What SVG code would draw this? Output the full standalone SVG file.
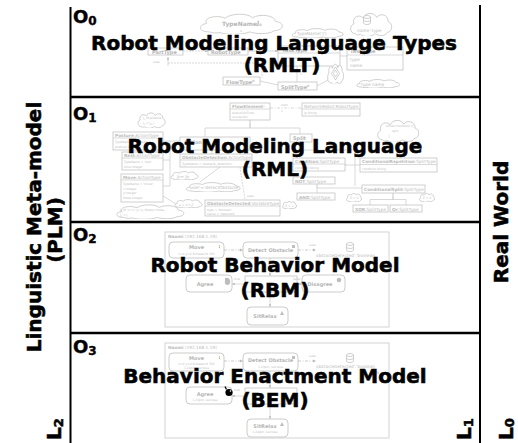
<svg xmlns="http://www.w3.org/2000/svg" width="518" height="443" viewBox="0 0 518 443">
<style>
.ttl{font-family:"DejaVu Sans",Verdana,sans-serif;font-weight:bold;font-size:20px;fill:#000;stroke:#000;stroke-width:0.55px}
.lay{font-family:"DejaVu Sans",Verdana,sans-serif;font-weight:bold;font-size:18px;fill:#000;stroke:#000;stroke-width:0.4px}
.ax{stroke:#000;fill:none}
.bx{fill:#fff;stroke:#c4c4c4;stroke-width:0.8}
.rb{fill:#fff;stroke:#c6c6c6;stroke-width:0.9}
.cl{fill:#fff;stroke:#c4c4c4;stroke-width:0.8}
.ln{stroke:#c8c8c8;stroke-width:0.7;fill:none}
.dd{stroke:#bdbdbd;stroke-width:0.8;fill:none;stroke-dasharray:3 1.5 1 1.5}
.t{font-family:"DejaVu Sans",sans-serif;font-size:3px;fill:#bdbdbd}
.tm{font-family:"DejaVu Sans",sans-serif;font-size:4.3px;fill:#bcbcbc}
.tb{font-family:"DejaVu Sans",sans-serif;font-size:5px;font-weight:bold;fill:#b6b6b6}
.c{text-anchor:middle}
</style>
<defs>
<symbol id="cloud" viewBox="0 0 100 40" preserveAspectRatio="none">
<path vector-effect="non-scaling-stroke" d="M14,36 C1,36 1,22 11,20 C6,8 24,3 32,10 C38,0 58,0 63,9 C71,1 89,4 89,16 C100,18 100,33 87,34 C83,41 66,40 60,36 C52,42 31,42 26,37 C22,39 17,38 14,36 Z"/>
</symbol>
<marker id="ga" viewBox="0 0 6 6" refX="6" refY="3" markerWidth="4" markerHeight="4" orient="auto"><path d="M0,0 L6,3 L0,6 Z" fill="#bdbdbd"/></marker>
<marker id="gh" viewBox="0 0 6 6" refX="6" refY="3" markerWidth="4" markerHeight="4" orient="auto"><path d="M0,0 L6,3 L0,6 Z" fill="#fff" stroke="#bdbdbd" stroke-width="0.8"/></marker>
<g id="db"><ellipse cx="0" cy="0" rx="3.5" ry="1.5" fill="#fff" stroke="#bdbdbd" stroke-width="0.7"/><path d="M-3.5,0 V6 A3.5,1.5 0 0 0 3.5,6 V0 M-3.5,3 A3.5,1.5 0 0 0 3.5,3" fill="none" stroke="#bdbdbd" stroke-width="0.7"/></g>
</defs>
<rect width="518" height="443" fill="#fff"/>

<!-- O0 layer -->
<g id="layer-O0">
<use href="#cloud" x="197" y="13" width="88" height="21" class="cl"/>
<text x="222" y="26" class="tb" style="font-size:6px">TypeName</text>
<text x="257" y="25" class="tb" style="font-size:6px">J<tspan font-size="3.5" dy="1">0</tspan></text>
<text x="240" y="32" class="t">A</text>
<use href="#cloud" x="290" y="28" width="55" height="10" class="cl"/>
<text x="297" y="35" class="tm">TypeName('J')</text>
<use href="#cloud" x="349" y="12" width="44" height="24" class="cl"/>
<use href="#db" x="367" y="17"/>
<text x="357" y="32" class="tm">name':type</text>
<rect x="148" y="48" width="35" height="7" class="bx"/>
<text x="152" y="54" class="tb">PartType</text>
<rect x="208" y="48" width="40" height="7" class="bx"/>
<text x="211" y="54" class="tb">RobotType</text>
<line x1="183" y1="51" x2="208" y2="51" class="ln" stroke-dasharray="2 1" marker-end="url(#ga)"/>
<text x="153" y="63" class="t">uses</text>
<line x1="168" y1="66" x2="168" y2="57" class="ln" marker-end="url(#ga)"/>
<path d="M168,63 H262 V78" class="ln" stroke-dasharray="2 1"/>
<rect x="278" y="46" width="62" height="20" class="bx"/>
<line x1="278" y1="53" x2="340" y2="53" class="ln"/>
<text x="282" y="52" class="tb">TaskType</text>
<text x="281" y="59" class="t">TypeName = ...</text>
<line x1="248" y1="51" x2="278" y2="51" class="ln" marker-end="url(#ga)"/>
<rect x="347" y="47" width="56" height="23" class="bx"/>
<line x1="347" y1="55" x2="403" y2="55" class="ln"/>
<text x="350" y="53" class="tb">TaskType</text>
<text x="350" y="61" class="tm">type</text>
<text x="350" y="67" class="tm">name</text>
<line x1="340" y1="56" x2="347" y2="56" class="ln"/>
<rect x="223" y="77" width="37" height="8" class="bx"/>
<text x="226" y="83.5" class="tb">FlowType<tspan font-size="3" dy="-2">0</tspan></text>
<rect x="278" y="82" width="39" height="8" class="bx"/>
<text x="281" y="88.5" class="tb">SplitType<tspan font-size="3" dy="-2">0</tspan></text>
<line x1="297" y1="66" x2="297" y2="82" class="ln"/>
<line x1="260" y1="81" x2="278" y2="85" class="ln"/>
<text x="300" y="75" class="t">1</text>
<text x="262" y="71" class="t">1</text>
<use href="#cloud" x="327" y="63" width="17" height="21" class="cl"/>
<path d="M335.5,67 L339.5,73.5 L335.5,80 L331.5,73.5 Z" fill="none" stroke="#bdbdbd" stroke-width="0.7"/>
<path d="M335.5,70 L337.5,73.5 L335.5,77 L333.5,73.5 Z" fill="none" stroke="#bdbdbd" stroke-width="0.6"/>
<use href="#cloud" x="355" y="79" width="46" height="9" class="cl"/>
<text x="361" y="86" class="tm">type name</text>
<line x1="317" y1="86" x2="328" y2="80" class="ln"/>
<text x="73" y="23" class="lay">O<tspan font-size="12" dy="2">0</tspan></text>
<text x="274" y="50" class="ttl" text-anchor="middle">Robot Modeling Language Types</text>
<text x="282" y="72" class="ttl" text-anchor="middle">(RMLT)</text>
</g>

<!-- O1 layer -->
<g id="layer-O1">
<path d="M250,120 V128 M205,128 H300 M205,128 V137 M300,128 V134" class="ln"/>
<line x1="250" y1="128" x2="250" y2="120.5" class="ln" marker-end="url(#gh)"/>
<path d="M163,141 H180 M163,160 H170 M163,186 H170 M170,141 V186" class="ln"/>
<line x1="212" y1="154" x2="212" y2="150.5" class="ln" marker-end="url(#gh)"/>
<use href="#cloud" x="137" y="112" width="29" height="16" class="cl"/>
<text x="143" y="119" class="t">J<tspan font-size="2" dy="0.7">0</tspan><tspan dy="-0.7"> M posture</tspan></text>
<text x="143" y="124" class="t">J<tspan font-size="2" dy="0.7">0</tspan><tspan dy="-0.7"> = J</tspan><tspan font-size="2" dy="0.7">A</tspan><tspan dy="-0.7"> J</tspan></text>
<rect x="113" y="132" width="50" height="18" class="bx"/>
<line x1="113" y1="138" x2="163" y2="138" class="ln"/>
<text x="115" y="137" class="tm"><tspan font-weight="bold">Posture</tspan>:ActionType</text>
<text x="115" y="143" class="t">TypeName = 'posture'</text>
<text x="115" y="147.5" class="t">posture:String</text>
<rect x="122" y="152" width="41" height="18" class="bx"/>
<line x1="122" y1="158" x2="163" y2="158" class="ln"/>
<text x="124" y="157" class="tm"><tspan font-weight="bold">Rest</tspan>:ActionType</text>
<text x="124" y="163" class="t">TypeName = 'rest'</text>
<text x="124" y="167.5" class="t">time:Integer</text>
<rect x="121" y="174" width="42" height="28" class="bx"/>
<line x1="121" y1="180" x2="163" y2="180" class="ln"/>
<text x="123" y="179" class="tm"><tspan font-weight="bold">Move</tspan>:ActionType</text>
<text x="123" y="185" class="t">TypeName = 'move'</text>
<text x="123" y="189.5" class="t">x:Integer</text>
<text x="123" y="194" class="t">y:Integer</text>
<text x="123" y="198.5" class="t">theta:Integer</text>
<use href="#cloud" x="114" y="204" width="72" height="15" class="cl"/>
<text x="120" y="211" class="t">J<tspan font-size="2" dy="0.7">0</tspan><tspan dy="-0.7"> M 'x='x;'y='y;'theta='theta</tspan></text>
<text x="120" y="216" class="t">J<tspan font-size="2" dy="0.7">0</tspan><tspan dy="-0.7"> = J</tspan></text>
<line x1="163" y1="196" x2="176" y2="204" class="ln"/>
<rect x="230" y="103" width="40" height="17" class="bx"/>
<line x1="230" y1="109" x2="270" y2="109" class="ln"/>
<text x="232" y="108" class="tm"><tspan font-weight="bold">FlowElement</tspan><tspan font-size="2.5" dy="-1.5">0</tspan></text>
<text x="232" y="113.5" class="t">executionTime</text>
<text x="232" y="118" class="t">successful</text>
<rect x="302" y="103" width="58" height="13" class="bx"/>
<line x1="302" y1="109" x2="360" y2="109" class="ln"/>
<text x="304" y="108" class="tm">NetworkRobot:RobotType</text>
<text x="304" y="114" class="t">ip:String</text>
<line x1="270" y1="108" x2="302" y2="108" class="ln" stroke-dasharray="3 1.5 1 1.5"/>
<text x="281" y="106" class="t">next</text>
<text x="281" y="112" class="t">1</text>
<rect x="180" y="137" width="70" height="13" class="bx"/>
<text x="184" y="144" class="tb">Action</text>
<rect x="290" y="134" width="22" height="8" class="bx"/>
<text x="293" y="140" class="tb">Split</text>
<rect x="180" y="154" width="72" height="13" class="bx"/>
<line x1="180" y1="160" x2="252" y2="160" class="ln"/>
<text x="182" y="159" class="tm"><tspan font-weight="bold">ObstacleDetection</tspan>:ActionType</text>
<text x="182" y="165" class="t">TypeName = 'obstacle_detection'</text>
<use href="#cloud" x="170" y="171" width="29" height="9" class="cl"/>
<text x="177" y="177.5" class="tm">J<tspan font-size="3" dy="0.8">0</tspan><tspan dy="-0.8">= J</tspan><tspan font-size="3" dy="0.8">M</tspan></text>
<use href="#cloud" x="184" y="182" width="58" height="10" class="cl"/>
<text x="190" y="189" class="tm">user'='detectObstacle'</text>
<line x1="220" y1="167" x2="200" y2="182" class="ln"/>
<use href="#cloud" x="174" y="199" width="29" height="9" class="cl"/>
<text x="179" y="205.5" class="t">a = X;Y;Z</text>
<rect x="205" y="200" width="75" height="16" class="bx"/>
<line x1="205" y1="206" x2="280" y2="206" class="ln"/>
<text x="207" y="205" class="tm"><tspan font-weight="bold">ObstacleDetected</tspan>:VariableType</text>
<text x="207" y="210.5" class="t">type = 'boolean'</text>
<text x="207" y="214.5" class="t">name = 'detected'</text>
<line x1="240" y1="167" x2="245" y2="200" class="ln" stroke-dasharray="2 1"/>
<text x="247" y="197" class="t">uses</text>
<rect x="293" y="158" width="52" height="13" class="bx"/>
<line x1="293" y1="164" x2="345" y2="164" class="ln"/>
<text x="295" y="163" class="tm"><tspan font-weight="bold">Condition</tspan>:SplitType</text>
<text x="295" y="169" class="t">condition:String</text>
<rect x="360" y="158" width="77" height="14" class="bx"/>
<line x1="360" y1="164.5" x2="437" y2="164.5" class="ln"/>
<text x="362" y="163" class="tm"><tspan font-weight="bold">ConditionalRepetition</tspan>:SplitType</text>
<text x="362" y="169.5" class="t">condition:String</text>
<line x1="360" y1="165" x2="345.5" y2="165" class="ln" marker-end="url(#gh)"/>
<use href="#cloud" x="376" y="119" width="44" height="23" class="cl"/>
<text x="386" y="127" class="t">while('condition'){</text>
<text x="392" y="132" class="t">split</text>
<text x="388" y="137" class="t">}</text>
<line x1="397" y1="142" x2="397" y2="158" class="ln"/>
<path d="M300,142 V150 H355 V186" class="ln"/>
<rect x="293" y="177" width="42" height="7" class="bx"/>
<text x="295" y="182.5" class="tm"><tspan font-weight="bold">NOT</tspan>:SplitType</text>
<path d="M317,193 V188 H362 M317,188 V184.5" class="ln"/>
<line x1="317" y1="188" x2="317" y2="184.5" class="ln" marker-end="url(#gh)"/>
<rect x="362" y="185" width="63" height="8" class="bx"/>
<text x="364" y="191" class="tm"><tspan font-weight="bold">ConditionalSplit</tspan>:SplitType</text>
<rect x="297" y="193" width="38" height="7" class="bx"/>
<text x="299" y="198.5" class="tm"><tspan font-weight="bold">AND</tspan>:SplitType</text>
<use href="#cloud" x="282" y="201" width="15" height="8" class="cl"/>
<text x="289.5" y="206.5" class="t c">Z = +</text>
<use href="#cloud" x="346" y="193" width="16" height="9" class="cl"/>
<text x="354" y="199" class="t c">Z = X</text>
<use href="#cloud" x="419" y="193" width="16" height="9" class="cl"/>
<text x="427" y="199" class="t c">Z = X</text>
<path d="M370,205 V199.5 H406 V205 M393,199.5 V193.5" class="ln"/>
<line x1="393" y1="199.5" x2="393" y2="193.5" class="ln" marker-end="url(#gh)"/>
<rect x="353" y="205" width="35" height="7" class="bx"/>
<text x="355" y="210.5" class="tm"><tspan font-weight="bold">XOR</tspan>:SplitType</text>
<rect x="390" y="205" width="32" height="7" class="bx"/>
<text x="392" y="210.5" class="tm"><tspan font-weight="bold">Or</tspan>:SplitType</text>
<text x="73" y="120" class="lay">O<tspan font-size="12" dy="2">1</tspan></text>
<text x="275" y="153" class="ttl" text-anchor="middle">Robot Modeling Language</text>
<text x="275" y="176" class="ttl" text-anchor="middle">(RML)</text>
</g>

<!-- O2 layer -->
<g id="layer-O2">
<rect x="165" y="232" width="224" height="95" fill="#fff" stroke="#cfcfcf" stroke-width="0.9"/>
<text x="168" y="238" class="tm"><tspan font-weight="bold">Naomi</tspan> (192.168.1.19)</text>
<rect x="169" y="242" width="55" height="16" rx="4" class="rb"/>
<text x="196.5" y="249" class="tb c">Move</text>
<text x="196.5" y="255" class="t c">x=4;y=2.6;theta=0.785</text>
<text x="218" y="248" class="t">🚶</text>
<line x1="224" y1="250" x2="243" y2="250" class="dd" marker-end="url(#ga)"/>
<rect x="243" y="242" width="55" height="16" rx="4" class="rb"/>
<text x="270.5" y="252" class="tb c">Detect Obstacle</text>
<rect x="292" y="245" width="3" height="3" fill="#c0c0c0"/>
<text x="309" y="246" class="t">uses</text>
<line x1="298" y1="250" x2="316" y2="250" class="dd" marker-end="url(#ga)"/>
<use href="#db" x="350" y="244"/>
<text x="316" y="257" class="tm">obstacleDetected':'boolean</text>
<line x1="270" y1="258" x2="270" y2="276" class="ln" marker-end="url(#ga)"/>
<rect x="245" y="276" width="52" height="16" class="bx"/>
<rect x="186" y="275" width="46" height="17" rx="4" class="rb"/>
<text x="205" y="285.5" class="tb c">Agree</text>
<path d="M225,278 Q229,277 230,280 Q231,284 228,285 Q224,285 225,281 Z" fill="#bdbdbd"/>
<line x1="245" y1="284" x2="232" y2="284" class="ln" marker-end="url(#ga)"/>
<text x="234" y="280" class="t">true</text>
<rect x="302" y="275" width="43" height="17" rx="4" class="rb"/>
<text x="320" y="285.5" class="tb c">Disagree</text>
<circle cx="339" cy="280" r="2.3" fill="#bdbdbd"/>
<line x1="297" y1="284" x2="302" y2="284" class="ln" marker-end="url(#ga)"/>
<text x="293" y="280" class="t">false</text>
<line x1="270" y1="292" x2="270" y2="307" class="ln" marker-end="url(#ga)"/>
<rect x="247" y="307" width="41" height="18" rx="4" class="rb"/>
<text x="265" y="318" class="tb c">SitRelax</text>
<path d="M280,315 L282,311 L284,315 Z" fill="#bdbdbd"/>
<text x="73" y="241" class="lay">O<tspan font-size="12" dy="2">2</tspan></text>
<text x="275" y="272" class="ttl" text-anchor="middle">Robot Behavior Model</text>
<text x="275" y="297" class="ttl" text-anchor="middle">(RBM)</text>
</g>

<!-- O3 layer -->
<g id="layer-O3">
<rect x="165" y="343" width="224" height="95" fill="#fff" stroke="#cfcfcf" stroke-width="0.9"/>
<text x="168" y="349" class="tm"><tspan font-weight="bold">Naomi</tspan> (192.168.1.19)</text>
<rect x="169" y="353" width="55" height="18" rx="4" class="rb"/>
<text x="196.5" y="359.5" class="tb c">Move</text>
<text x="196.5" y="364.5" class="t c">x=4;y=2.6;theta=0.785</text>
<text x="196.5" y="368.5" class="t c">1.22pm; success</text>
<text x="218" y="359" class="t">🚶</text>
<line x1="224" y1="361" x2="243" y2="361" class="dd" marker-end="url(#ga)"/>
<rect x="243" y="353" width="55" height="18" rx="4" class="rb"/>
<text x="270.5" y="362" class="tb c">Detect Obstacle</text>
<text x="270.5" y="367.5" class="t c">1.23pm; success</text>
<rect x="292" y="356" width="3" height="3" fill="#c0c0c0"/>
<text x="309" y="357" class="t">uses</text>
<line x1="298" y1="361" x2="316" y2="361" class="dd" marker-end="url(#ga)"/>
<use href="#db" x="350" y="355"/>
<text x="316" y="368" class="tm">obstacleDetected':'boolean</text>
<text x="370" y="374" class="tm">true</text>
<line x1="270" y1="371" x2="270" y2="388" class="ln" marker-end="url(#ga)"/>
<rect x="245" y="388" width="52" height="16" class="bx"/>
<rect x="186" y="387" width="46" height="17" rx="4" class="rb"/>
<text x="205" y="396" class="tb c">Agree</text>
<text x="205" y="401" class="t c">1.23pm; success</text>
<line x1="245" y1="396" x2="232" y2="396" class="ln" marker-end="url(#ga)"/>
<text x="234" y="391" class="t">true</text>
<line x1="270" y1="404" x2="270" y2="419" class="ln" marker-end="url(#ga)"/>
<rect x="247" y="419" width="41" height="18" rx="4" class="rb"/>
<text x="265" y="428" class="tb c">SitRelax</text>
<text x="265" y="433" class="t c">1.24pm; success</text>
<path d="M280,426 L282,422 L284,426 Z" fill="#bdbdbd"/>
<g id="cursor">
<circle cx="229" cy="392.5" r="3.6" fill="#000"/>
<path d="M226.5,389.5 L225,386.5" stroke="#000" stroke-width="1.2"/>
<circle cx="230.5" cy="391" r="0.8" fill="#fff"/>
</g>
<text x="73" y="353" class="lay">O<tspan font-size="12" dy="2">3</tspan></text>
<text x="275" y="383" class="ttl" text-anchor="middle">Behavior Enactment Model</text>
<text x="275" y="407" class="ttl" text-anchor="middle">(BEM)</text>
</g>

<!-- axes / connectors -->
<g id="connectors">
<line x1="70.5" y1="7" x2="70.5" y2="443" class="ax" stroke-width="2"/>
<line x1="480" y1="5" x2="480" y2="443" class="ax" stroke-width="2"/>
<line x1="70" y1="97" x2="481" y2="97" class="ax" stroke-width="2.5"/>
<line x1="70" y1="222" x2="481" y2="222" class="ax" stroke-width="2.5"/>
<line x1="70" y1="333" x2="481" y2="333" class="ax" stroke-width="2.5"/>
</g>

<!-- side labels -->
<g id="label-PLM">
<text transform="translate(41,227) rotate(-90)" class="ttl" text-anchor="middle">Linguistic Meta-model</text>
<text transform="translate(62,230) rotate(-90)" class="ttl" text-anchor="middle">(PLM)</text>
</g>
<g id="label-RealWorld">
<text transform="translate(508,222) rotate(-90)" class="ttl" text-anchor="middle">Real World</text>
</g>
<g id="label-L2"><text transform="translate(61,440) rotate(-90)" class="ttl">L<tspan font-size="13" dy="2">2</tspan></text></g>
<g id="label-L1"><text transform="translate(471,440) rotate(-90)" class="ttl">L<tspan font-size="13" dy="2">1</tspan></text></g>
<g id="label-L0"><text transform="translate(513,440) rotate(-90)" class="ttl">L<tspan font-size="13" dy="1">0</tspan></text></g>
</svg>
